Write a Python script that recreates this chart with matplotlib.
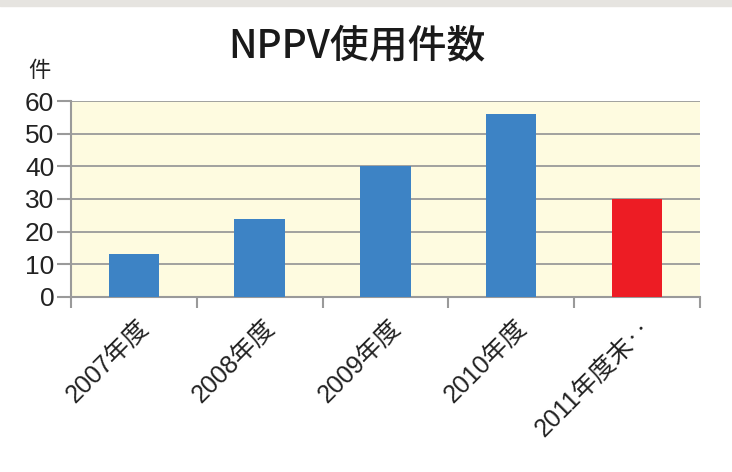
import matplotlib.pyplot as plt
import matplotlib.transforms as mtransforms
from matplotlib.patches import Rectangle

plt.rcParams['font.family'] = ['Liberation Sans', 'Noto Sans CJK JP', 'DejaVu Sans']

categories = ["2007年度", "2008年度", "2009年度", "2010年度", "2011年度末‥"]
counts = [13, 24, 40, 56, 30]
colors = ["#3d83c5", "#3d83c5", "#3d83c5", "#3d83c5", "#ed1c24"]

fig = plt.figure(figsize=(7.32, 4.72), dpi=100)
fig.patches.append(Rectangle((0, 0.988), 1, 0.012, transform=fig.transFigure,
                             color="#e6e4e0", zorder=0))
ax = fig.add_axes([0.097, 0.371, 0.859, 0.415])
ax.set_facecolor("#fefbe0")

x = range(len(categories))
ax.bar(x, counts, width=0.4, color=colors, zorder=3)

ax.set_xlim(-0.5, len(categories) - 0.5)
ax.set_ylim(0, 60)
ax.set_yticks(range(0, 61, 10))
ax.yaxis.grid(True, color="#9a9a9a", linewidth=1.3, zorder=1)

# ticks sit on category boundaries, labels at category centres
ax.set_xticks([i - 0.5 for i in range(len(categories) + 1)])
ax.set_xticklabels([])
ax.set_xticks(list(x), minor=True)
ax.set_xticklabels(categories, minor=True, rotation=45, ha="right",
                   rotation_mode="anchor", fontsize=18, color="#222222")
ax.tick_params(axis="x", which="minor", length=0, pad=13)
offset = mtransforms.ScaledTranslation(0.03, 0, fig.dpi_scale_trans)
for lab in ax.get_xticklabels(minor=True):
    lab.set_transform(lab.get_transform() + offset)

ax.tick_params(axis="x", which="major", length=8, width=1.5, color="#9a9a9a")
ax.tick_params(axis="y", length=10, width=1.5, color="#9a9a9a",
               labelsize=19, labelcolor="#222222", pad=2)

for s in ["top", "right"]:
    ax.spines[s].set_visible(False)
for s in ["left", "bottom"]:
    ax.spines[s].set_color("#9a9a9a")
    ax.spines[s].set_linewidth(1.5)

fig.text(0.487, 0.902, "NPPV使用件数", ha="center", va="center",
         fontsize=28, fontweight="medium", color="#1a1a1a",
         family=["Noto Sans CJK JP", "DejaVu Sans"])
fig.text(0.054, 0.848, "件", ha="center", va="center", fontsize=16,
         color="#222222")

plt.savefig("out.png", dpi=100)
